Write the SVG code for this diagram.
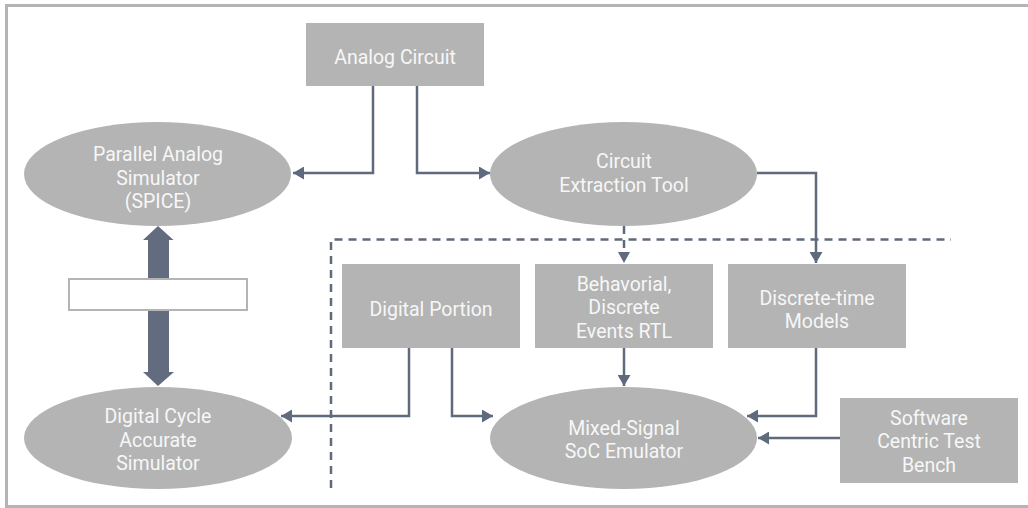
<svg xmlns="http://www.w3.org/2000/svg" width="1028" height="508" viewBox="0 0 1028 508">
<style>
.box{fill:#b3b4b3}
.t{font-family:Roboto,"Liberation Sans",sans-serif;font-size:19.5px;fill:#f7f7f7;text-anchor:middle}
.c{fill:none;stroke:#5f6a7c;stroke-width:2.5}
.d{fill:none;stroke:#5f6a7c;stroke-width:2.5;stroke-dasharray:8 6}
</style>
<defs>
<marker id="ah" markerUnits="userSpaceOnUse" markerWidth="12" markerHeight="13" refX="11" refY="6.5" orient="auto">
<path d="M0,0 L11,6.5 L0,13 Z" fill="#5f6a7c"/>
</marker>
</defs>
<rect x="6.5" y="5.5" width="1030" height="501" fill="#fff" stroke="#b3b4b3" stroke-width="3"/>
<g id="connectors">
<path class="c" d="M373,86 V173 H293" marker-end="url(#ah)"/>
<path class="c" d="M417,86 V173 H490" marker-end="url(#ah)"/>
<path class="c" d="M757,173 H816 V263" marker-end="url(#ah)"/>
<path class="d" d="M624,226 V252"/>
<path d="M618,252 L624,263 L630,252 Z" fill="#5f6a7c"/>
<path class="c" d="M624,348 V386" marker-end="url(#ah)"/>
<path class="c" d="M409,348 V416 H281" marker-end="url(#ah)"/>
<path class="c" d="M452,348 V416 H493" marker-end="url(#ah)"/>
<path class="c" d="M816,348 V416 H747" marker-end="url(#ah)"/>
<path class="c" d="M840,438 H758" marker-end="url(#ah)"/>
<path d="M158,226 L173.5,240 L169,240 L169,372 L174,372 L158,386 L143,372 L148,372 L148,240 L143,240 Z" fill="#636c7e"/>
<path class="d" d="M331,488 V239.5 H951"/>
</g>
<g id="analog-circuit">
<rect class="box" x="306" y="23" width="178" height="63"/>
<text class="t" x="395" y="64">Analog Circuit</text>
</g>
<g id="parallel-analog-simulator">
<ellipse class="box" cx="157.5" cy="174" rx="133.5" ry="52"/>
<text class="t" x="158" y="161">Parallel Analog</text>
<text class="t" x="158" y="184.5">Simulator</text>
<text class="t" x="158" y="208">(SPICE)</text>
</g>
<g id="circuit-extraction-tool">
<ellipse class="box" cx="623.5" cy="174" rx="133.5" ry="52"/>
<text class="t" x="624" y="168">Circuit</text>
<text class="t" x="624" y="191.5">Extraction Tool</text>
</g>
<g id="label-box">
<rect x="69" y="279" width="178" height="31" fill="#fff" stroke="#b3b4b3" stroke-width="2"/>
</g>
<g id="digital-cycle-accurate-simulator">
<ellipse class="box" cx="158" cy="438" rx="134" ry="51"/>
<text class="t" x="158" y="423">Digital Cycle</text>
<text class="t" x="158" y="446.5">Accurate</text>
<text class="t" x="158" y="470">Simulator</text>
</g>
<g id="digital-portion">
<rect class="box" x="342" y="264" width="178" height="84"/>
<text class="t" x="431" y="316">Digital Portion</text>
</g>
<g id="behavioral">
<rect class="box" x="535" y="264" width="178" height="84"/>
<text class="t" x="624" y="290.5">Behavorial,</text>
<text class="t" x="624" y="314">Discrete</text>
<text class="t" x="624" y="337.5">Events RTL</text>
</g>
<g id="discrete-time-models">
<rect class="box" x="728" y="264" width="178" height="84"/>
<text class="t" x="817" y="304.5">Discrete-time</text>
<text class="t" x="817" y="328">Models</text>
</g>
<g id="mixed-signal-soc-emulator">
<ellipse class="box" cx="623.5" cy="438" rx="133.5" ry="51"/>
<text class="t" x="624" y="434.5">Mixed-Signal</text>
<text class="t" x="624" y="458">SoC Emulator</text>
</g>
<g id="software-centric-test-bench">
<rect class="box" x="840" y="398" width="178" height="85"/>
<text class="t" x="929" y="424.5">Software</text>
<text class="t" x="929" y="448">Centric Test</text>
<text class="t" x="929" y="471.5">Bench</text>
</g>
</svg>
